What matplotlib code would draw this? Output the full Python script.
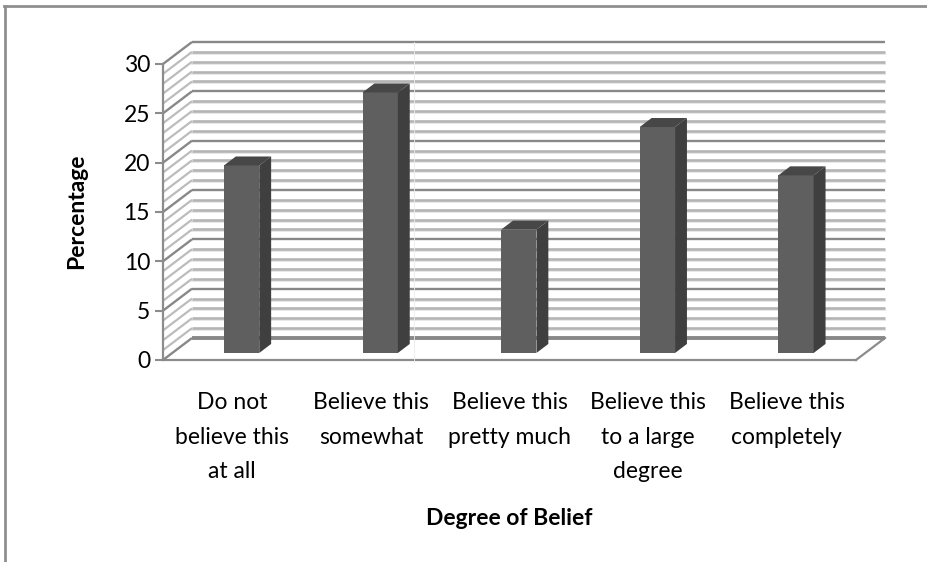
import matplotlib
matplotlib.use('Agg')
import matplotlib.pyplot as plt
from matplotlib.patches import Polygon

plt.rcParams['font.family'] = ['Lato', 'DejaVu Sans']

categories = ['Do not\nbelieve this\nat all', 'Believe this\nsomewhat', 'Believe this\npretty much',
              'Believe this\nto a large\ndegree', 'Believe this\ncompletely']
values = [19.0, 26.4, 12.5, 22.9, 18.0]
yticks = [0, 5, 10, 15, 20, 25, 30]
ylabel = 'Percentage'
xlabel = 'Degree of Belief'

W, H = 928, 562
# 3D look: how far the back wall sits from the front plane, in data units
DX = 29 / 138.6
DY = 22 / 9.87
BAR_W = 0.255
BAR_FRONT = 0.32
BAR_BACK = 0.73


def proj(x, y, d):
    return (x + d * DX, y + d * DY)


fig = plt.figure(figsize=(W / 100, H / 100), dpi=100)
ax = fig.add_axes([163 / W, 1 - 360 / H, 693 / W, 296 / H])
ax.set_xlim(0, 5)
ax.set_ylim(0, 30)
ax.patch.set_alpha(0)

# wall grid, 1 unit apart, every 5th darker
for v in range(0, 31):
    major = v % 5 == 0
    col = '#888888' if major else '#b4b4b4'
    lw = 1.7 if major else 1.9
    if v == 0:
        lw = 2.8
    x0, y0 = proj(0, v, 1)
    x1, y1 = proj(5, v, 1)
    if not major:
        ax.plot([x0, x1], [y0 - 0.2, y1 - 0.2], color='#e8e8e8', lw=1.4, zorder=1, clip_on=False)
    ax.plot([x0, x1], [y0, y1], color=col, lw=lw, zorder=1.2, clip_on=False, solid_capstyle='butt')
    # side wall
    fx, fy = proj(0, v, 0)
    ax.plot([fx, x0], [fy, y0], color='#888888' if major else '#bcbcbc', lw=1.7 if major else 1.6,
            zorder=1.1, clip_on=False, solid_capstyle='butt')

# right edge of the floor
x0, y0 = proj(5, 0, 0)
x1, y1 = proj(5, 0, 1)
ax.plot([x0, x1], [y0, y1], color='#8c8c8c', lw=1.6, zorder=1.1, clip_on=False)

# bars
for i, v in enumerate(values):
    left = i + 0.5 - BAR_W / 2
    right = left + BAR_W
    base = proj(left, 0, BAR_FRONT)
    ax.bar(base[0], v, width=BAR_W, bottom=base[1], align='edge', color='#5f5f5f', zorder=3, clip_on=False)
    ax.add_patch(Polygon([proj(right, 0, BAR_FRONT), proj(right, v, BAR_FRONT),
                          proj(right, v, BAR_BACK), proj(right, 0, BAR_BACK)],
                         closed=True, color='#3f3f3f', lw=0, zorder=3, clip_on=False))
    ax.add_patch(Polygon([proj(left, v, BAR_FRONT), proj(right, v, BAR_FRONT),
                          proj(right, v, BAR_BACK), proj(left, v, BAR_BACK)],
                         closed=True, color='#474747', lw=0, zorder=3, clip_on=False))

for s in ['top', 'right']:
    ax.spines[s].set_visible(False)
for s in ['left', 'bottom']:
    ax.spines[s].set_color('#8c8c8c')
    ax.spines[s].set_linewidth(1.6)
    ax.spines[s].set_zorder(4)

ax.set_yticks(yticks)
ax.tick_params(axis='y', length=5.8, width=1.5, color='#8c8c8c', labelsize=16.5, pad=3.5, labelcolor='black')
ax.set_xticks([i + 0.5 for i in range(len(categories))])
ax.set_xticklabels(categories, linespacing=1.8)
ax.tick_params(axis='x', length=0, labelsize=16.5, pad=23, labelcolor='black')

ax.set_ylabel(ylabel, fontsize=16.5, fontweight='bold')
ax.yaxis.set_label_coords((87 - 163) / 693, 1 - (211 - 64) / 296)
ax.set_xlabel(xlabel, fontsize=16.5, fontweight='bold')
ax.xaxis.set_label_coords(0.5, -(508 - 360) / 296)

# chart frame, only top and left show, and the pale seam through the plot
fig.add_artist(plt.Line2D([5 / W, 5 / W], [0, 1 - 6 / H], color='#8f8f8f', lw=2))
fig.add_artist(plt.Line2D([4 / W, 1], [1 - 6 / H, 1 - 6 / H], color='#8f8f8f', lw=2))
fig.add_artist(plt.Line2D([414 / W, 414 / W], [1 - 362 / H, 1 - 42 / H], color='#ececec', lw=0.6, zorder=2))

fig.savefig('out.png', dpi=100)
